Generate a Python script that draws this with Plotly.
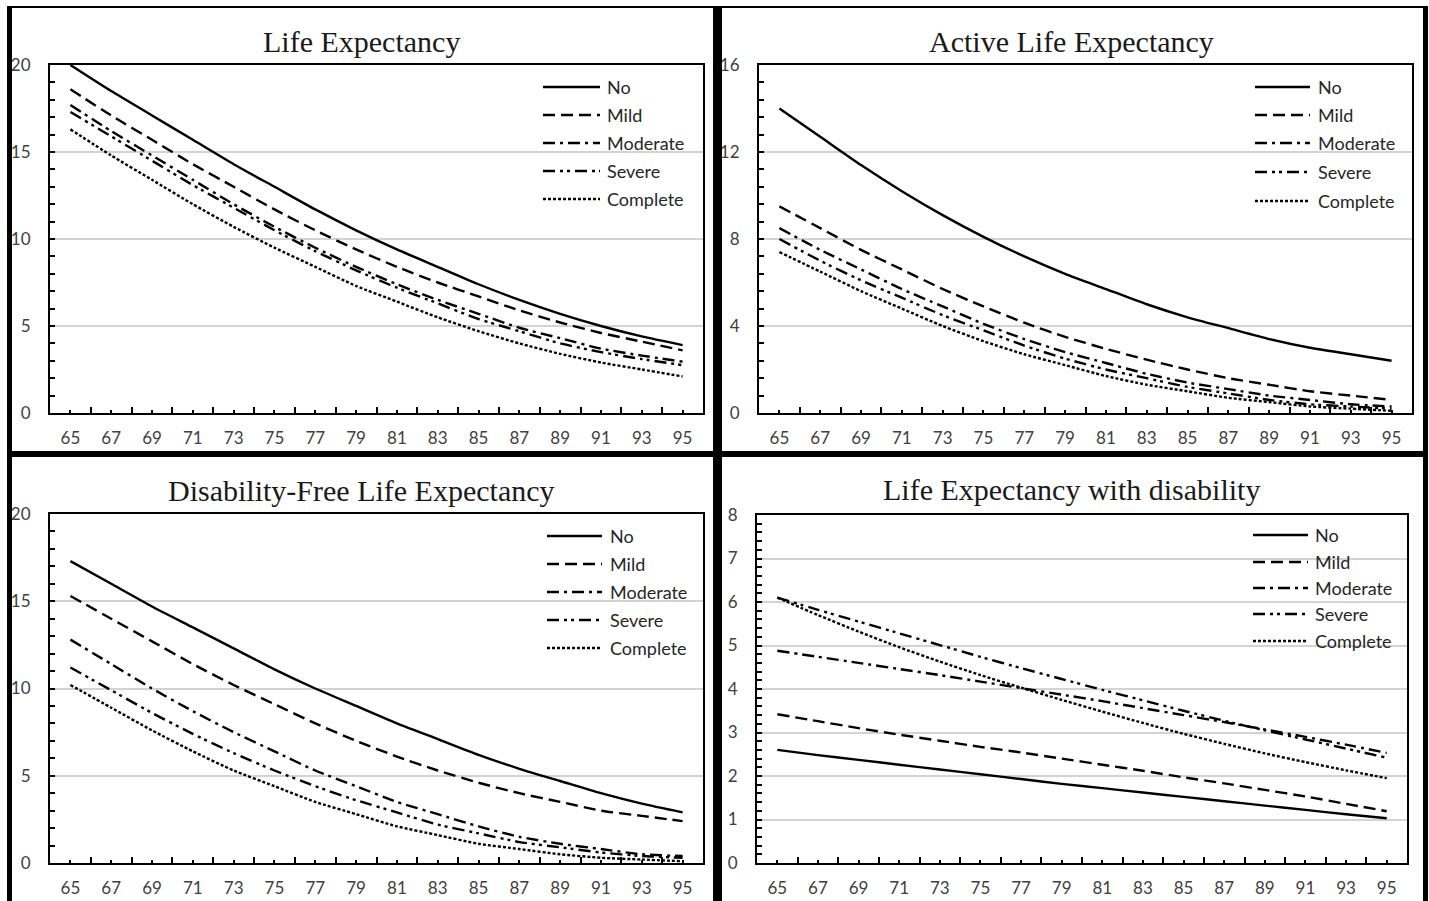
import plotly.graph_objects as go

# ---------------- data ----------------
years = [65, 67, 69, 71, 73, 75, 77, 79, 81, 83, 85, 87, 89, 91, 93, 95]
categories = ["No", "Mild", "Moderate", "Severe", "Complete"]

# Life Expectancy
le_no       = [20.0, 18.5, 17.1, 15.7, 14.3, 13.0, 11.7, 10.5, 9.4, 8.4, 7.4, 6.5, 5.7, 5.0, 4.4, 3.9]
le_mild     = [18.6, 17.1, 15.7, 14.3, 13.0, 11.7, 10.5, 9.4, 8.4, 7.5, 6.7, 5.9, 5.2, 4.6, 4.1, 3.6]
le_moderate = [17.7, 16.2, 14.8, 13.4, 12.0, 10.7, 9.5, 8.4, 7.4, 6.5, 5.7, 4.9, 4.3, 3.7, 3.3, 2.95]
le_severe   = [17.3, 15.9, 14.5, 13.1, 11.8, 10.5, 9.3, 8.2, 7.2, 6.3, 5.4, 4.7, 4.0, 3.5, 3.1, 2.75]
le_complete = [16.3, 14.8, 13.4, 12.0, 10.7, 9.5, 8.4, 7.3, 6.4, 5.5, 4.7, 4.0, 3.4, 2.9, 2.5, 2.1]

# Active Life Expectancy
ale_no       = [14.0, 12.7, 11.4, 10.2, 9.1, 8.1, 7.2, 6.4, 5.7, 5.0, 4.4, 3.9, 3.4, 3.0, 2.7, 2.4]
ale_mild     = [9.5, 8.5, 7.5, 6.6, 5.7, 4.9, 4.15, 3.5, 2.95, 2.45, 2.0, 1.6, 1.3, 1.0, 0.8, 0.6]
ale_moderate = [8.5, 7.5, 6.6, 5.7, 4.9, 4.1, 3.4, 2.8, 2.3, 1.8, 1.4, 1.1, 0.8, 0.6, 0.4, 0.3]
ale_severe   = [8.0, 7.0, 6.1, 5.3, 4.5, 3.8, 3.1, 2.5, 2.0, 1.6, 1.2, 0.9, 0.6, 0.4, 0.3, 0.2]
ale_complete = [7.4, 6.5, 5.6, 4.8, 4.0, 3.3, 2.7, 2.2, 1.7, 1.3, 1.0, 0.7, 0.5, 0.3, 0.2, 0.1]

# Disability-Free Life Expectancy
dfle_no       = [17.3, 16.0, 14.7, 13.5, 12.3, 11.1, 10.0, 9.0, 8.0, 7.1, 6.2, 5.4, 4.7, 4.0, 3.4, 2.9]
dfle_mild     = [15.3, 14.0, 12.7, 11.4, 10.2, 9.1, 8.0, 7.0, 6.1, 5.3, 4.6, 4.0, 3.5, 3.0, 2.7, 2.4]
dfle_moderate = [12.8, 11.4, 10.0, 8.7, 7.5, 6.4, 5.3, 4.4, 3.5, 2.8, 2.1, 1.5, 1.1, 0.8, 0.5, 0.4]
dfle_severe   = [11.2, 9.9, 8.6, 7.4, 6.3, 5.3, 4.4, 3.6, 2.9, 2.2, 1.7, 1.2, 0.9, 0.6, 0.4, 0.3]
dfle_complete = [10.2, 8.9, 7.6, 6.4, 5.3, 4.4, 3.5, 2.8, 2.1, 1.6, 1.1, 0.8, 0.5, 0.3, 0.2, 0.1]

# Life Expectancy with disability
led_no       = [2.60, 2.48, 2.37, 2.26, 2.15, 2.04, 1.93, 1.82, 1.72, 1.62, 1.52, 1.42, 1.32, 1.22, 1.12, 1.03]
led_mild     = [3.42, 3.26, 3.10, 2.95, 2.81, 2.67, 2.54, 2.40, 2.26, 2.12, 1.97, 1.83, 1.68, 1.53, 1.36, 1.19]
led_moderate = [4.88, 4.74, 4.60, 4.46, 4.32, 4.17, 4.02, 3.87, 3.72, 3.56, 3.40, 3.24, 3.07, 2.90, 2.72, 2.53]
led_severe   = [6.10, 5.82, 5.55, 5.28, 5.01, 4.74, 4.48, 4.23, 3.98, 3.74, 3.50, 3.27, 3.05, 2.84, 2.63, 2.42]
led_complete = [6.10, 5.70, 5.32, 4.96, 4.63, 4.32, 4.03, 3.75, 3.48, 3.22, 2.97, 2.74, 2.52, 2.32, 2.13, 1.95]

titles = ["Life Expectancy", "Active Life Expectancy",
          "Disability-Free Life Expectancy", "Life Expectancy with disability"]

# ---------------- styling ----------------
W, H = 1429, 901
dashes = ["solid", "12px,6px", "12px,5px,3px,5px", "12px,5px,3px,4px,3px,5px", "3px,2px"]
LINE_W = 2.4
TICK_FONT = dict(family="Lato", size=17, color="#404040")
LEG_FONT = dict(family="Lato", size=18, color="#262626")
TITLE_FONT = dict(family="Liberation Serif", size=30, color="#1a1a1a")


def fx(p):
    return p / W


def fy(p):
    return 1 - p / H


panels = [
    dict(series=[le_no, le_mild, le_moderate, le_severe, le_complete],
         ymax=20, dtick=5, minor=1, box=(50, 703, 65, 413), title_xy=(362, 42),
         leg=(543, 600, 605, [87, 115, 143, 171, 199])),
    dict(series=[ale_no, ale_mild, ale_moderate, ale_severe, ale_complete],
         ymax=16, dtick=4, minor=0.8, box=(759, 1412, 65, 413), title_xy=(1071, 42),
         leg=(1255, 1310, 1316, [87, 115, 143, 172, 201])),
    dict(series=[dfle_no, dfle_mild, dfle_moderate, dfle_severe, dfle_complete],
         ymax=20, dtick=5, minor=1, box=(50, 703, 514, 863), title_xy=(362, 491),
         leg=(547, 602, 608, [536, 564, 592, 620, 648])),
    dict(series=[led_no, led_mild, led_moderate, led_severe, led_complete],
         ymax=8, dtick=1, minor=0.2, box=(757, 1407, 515, 863), title_xy=(1071, 490),
         leg=(1253, 1308, 1313, [535, 562, 588, 614, 641])),
]

fig = go.Figure()
shapes = []
annotations = []

for i, p in enumerate(panels):
    sfx = "" if i == 0 else str(i + 1)
    xa, ya = "x" + sfx, "y" + sfx
    x0, x1, y0, y1 = p["box"]
    for name, vals, dash in zip(categories, p["series"], dashes):
        fig.add_trace(go.Scatter(
            x=years, y=vals, name=name, mode="lines", showlegend=False,
            line=dict(color="black", width=LINE_W, dash=dash, shape="spline", smoothing=0.6),
            xaxis=xa, yaxis=ya))
    fig.layout["xaxis" + sfx] = dict(
        domain=[fx(x0), fx(x1)], anchor=ya, range=[64, 96], automargin=False,
        showline=True, mirror=True, linecolor="black", linewidth=2,
        ticks="inside", tick0=65, dtick=2, ticklen=3, tickwidth=2, tickcolor="black",
        minor=dict(ticks="inside", tick0=65, dtick=1, ticklen=6, tickwidth=2,
                   tickcolor="black", showgrid=False),
        showgrid=False, zeroline=False, tickfont=TICK_FONT, ticklabelstandoff=9)
    fig.layout["yaxis" + sfx] = dict(
        domain=[fy(y1), fy(y0)], anchor=xa, range=[0, p["ymax"]], automargin=False,
        showline=True, mirror=True, linecolor="black", linewidth=2,
        ticks="inside", tick0=0, dtick=p["dtick"], ticklen=5, tickwidth=2, tickcolor="black",
        minor=dict(ticks="inside", tick0=0, dtick=p["minor"], ticklen=5, tickwidth=2,
                   tickcolor="black", showgrid=False),
        showgrid=True, gridcolor="#d3d3d3", gridwidth=1.8, zeroline=False,
        tickfont=TICK_FONT, ticklabelstandoff=14)

    tx, ty = p["title_xy"]
    annotations.append(dict(text=titles[i], x=fx(tx), y=fy(ty), xref="paper", yref="paper",
                            xanchor="center", yanchor="middle", showarrow=False,
                            font=TITLE_FONT))
    lx0, lx1, tx0, lys = p["leg"]
    for name, dash, ly in zip(categories, dashes, lys):
        shapes.append(dict(type="line", xref="paper", yref="paper",
                           x0=fx(lx0), x1=fx(lx1), y0=fy(ly), y1=fy(ly),
                           line=dict(color="black", width=LINE_W, dash=dash)))
        annotations.append(dict(text=name, x=fx(tx0), y=fy(ly), xref="paper", yref="paper",
                                xanchor="left", yanchor="middle", showarrow=False,
                                font=LEG_FONT))

# outer frames (page pixel coordinates)
frame_rects = [
    (7, 1428, 6, 8),      # top thin line
    (7, 12, 6, 901),      # left
    (1423, 1428, 6, 901), # right
    (713, 722, 6, 901),   # vertical separator
    (7, 1428, 451, 457),  # horizontal separator
]
for a, b, c, d in frame_rects:
    shapes.append(dict(type="rect", xref="paper", yref="paper",
                       x0=fx(a), x1=fx(b), y0=fy(d), y1=fy(c),
                       fillcolor="black", line=dict(width=0), layer="above"))

fig.update_layout(width=W, height=H, margin=dict(l=0, r=0, t=0, b=0, pad=0, autoexpand=False),
                  paper_bgcolor="white", plot_bgcolor="white",
                  shapes=shapes, annotations=annotations, showlegend=False)

fig.write_html(
    "out.html",
    config={"displayModeBar": False},
    post_script="document.body.style.margin='0';"
                "document.documentElement.style.overflow='hidden';")
